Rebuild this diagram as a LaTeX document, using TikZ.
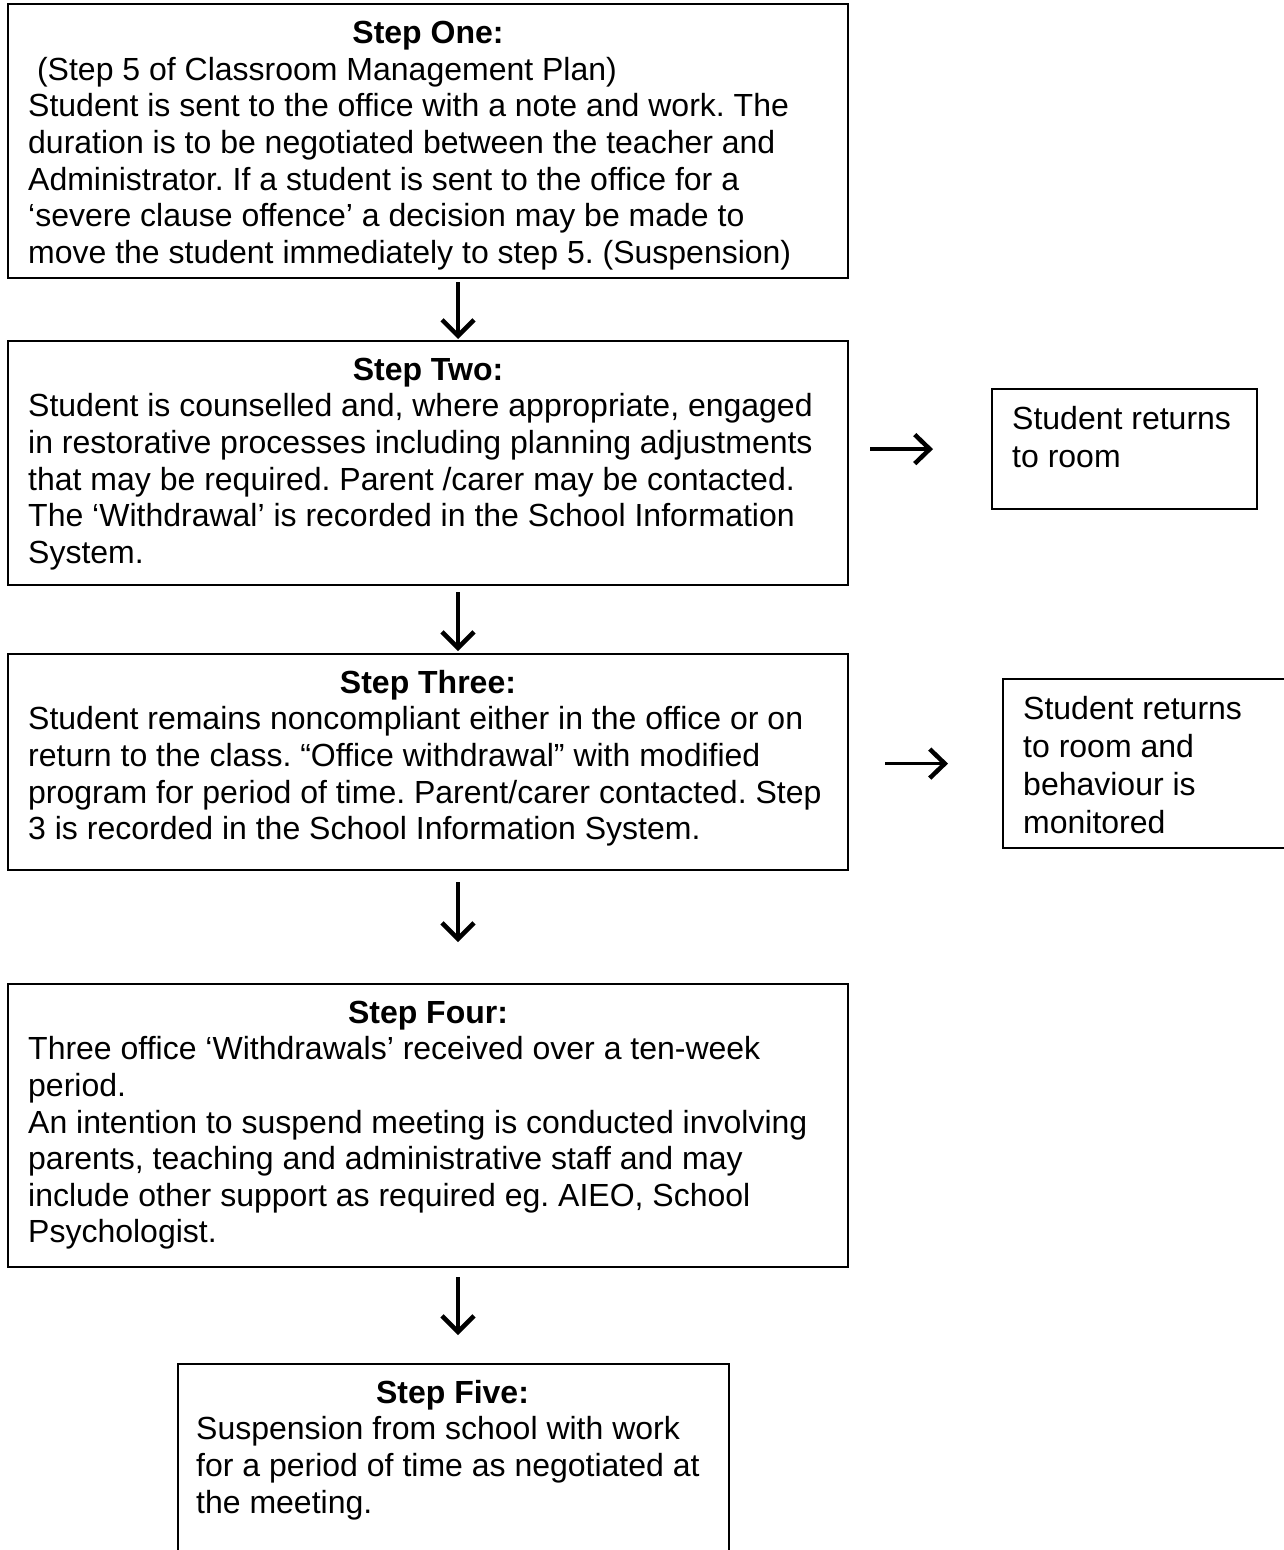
\documentclass[tikz,border=0pt]{standalone}
\usepackage{fontspec}
\setmainfont{Liberation Sans}
\usetikzlibrary{arrows.meta}
\newcommand{\firststrut}{\rule{0pt}{30pt}}
\begin{document}
\frenchspacing
\begin{tikzpicture}[x=1pt,y=-1pt,
  box/.style={draw, line width=2.2pt, inner sep=0pt, anchor=north west},
  head/.style={font={\fontsize{32}{36.6}\selectfont\bfseries}, anchor=base, inner sep=0pt},
  body/.style={font={\fontsize{32}{36.6}\selectfont}, align=left, anchor=north west, inner sep=0pt},
  sidetext/.style={font={\fontsize{32}{38}\selectfont}, align=left, anchor=north west, inner sep=0pt},
  arr/.style={-{Straight Barb[length=16pt,width=32pt,line width=4.5pt]}, line width=3.5pt},
  sarr/.style={-{Straight Barb[length=15pt,width=29pt,line width=4.5pt]}, line width=3.5pt}]
\useasboundingbox (0,0) rectangle (1284,1550);
\fill[white] (0,0) rectangle (1284,1550);
\clip (0,0) rectangle (1284,1550);

% Step One
\node[box, minimum width=840pt, minimum height=274pt] (b1) at (7,3) {};
\node[head] (h1) at (428,43.5) {Step One:};
\node[body] (t1) at (28,50) {\firststrut\ (Step 5 of Classroom Management Plan)\\
Student is sent to the office with a note and work. The\\
duration is to be negotiated between the teacher and\\
Administrator. If a student is sent to the office for a\\
‘severe clause offence’ a decision may be made to\\
move the student immediately to step 5. (Suspension)};

% Step Two
\node[box, minimum width=840pt, minimum height=244pt] (b2) at (7,340) {};
\node[head] (h2) at (428,380) {Step Two:};
\node[body] (t2) at (28,386.6) {\firststrut Student is counselled and, where appropriate, engaged\\
in restorative processes including planning adjustments\\
that may be required. Parent /carer may be contacted.\\
The ‘Withdrawal’ is recorded in the School Information\\
System.};

% Step Three
\node[box, minimum width=840pt, minimum height=216pt] (b3) at (7,653) {};
\node[head] (h3) at (428,693) {Step Three:};
\node[body] (t3) at (28,699.6) {\firststrut Student remains noncompliant either in the office or on\\
return to the class. “Office withdrawal” with modified\\
program for period of time. Parent/carer contacted. Step\\
3 is recorded in the School Information System.};

% Step Four
\node[box, minimum width=840pt, minimum height=283pt] (b4) at (7,983) {};
\node[head] (h4) at (428,1023) {Step Four:};
\node[body] (t4) at (28,1029.6) {\firststrut Three office ‘Withdrawals’ received over a ten-week\\
period.\\
An intention to suspend meeting is conducted involving\\
parents, teaching and administrative staff and may\\
include other support as required eg. AIEO, School\\
Psychologist.};

% Step Five
\node[box, minimum width=551pt, minimum height=260pt] (b5) at (177,1363) {};
\node[head] (h5) at (452.5,1403) {Step Five:};
\node[body] (t5) at (196,1409.6) {\firststrut Suspension from school with work\\
for a period of time as negotiated at\\
the meeting.};

% Side boxes
\node[box, minimum width=265pt, minimum height=120pt] (r1) at (991,388) {};
\node[sidetext] (s1) at (1012,399) {\firststrut Student returns\\to room};
\node[box, minimum width=320pt, minimum height=169pt] (r2) at (1002,678) {};
\node[sidetext] (s2) at (1023,689) {\firststrut Student returns\\to room and\\behaviour is\\monitored};

% Vertical arrows
\draw[arr, shorten <=3pt, shorten >=1pt] ([xshift=451pt]b1.south west) -- ([xshift=451pt]b2.north west);
\draw[arr, shorten <=6pt, shorten >=2pt] ([xshift=451pt]b2.south west) -- ([xshift=451pt]b3.north west);
\draw[arr, shorten <=11pt, shorten >=41pt] ([xshift=451pt]b3.south west) -- ([xshift=451pt]b4.north west);
\draw[arr, shorten <=9pt, shorten >=28pt] ([xshift=451pt]b4.south west) -- ([xshift=281pt]b5.north west);

% Horizontal arrows
\draw[sarr, shorten <=21pt, shorten >=58pt] (b2.east |- r1.west) -- (r1.west);
\draw[sarr, shorten <=36pt, shorten >=54pt] (b3.east |- r2.west) -- (r2.west);
\end{tikzpicture}
\end{document}
